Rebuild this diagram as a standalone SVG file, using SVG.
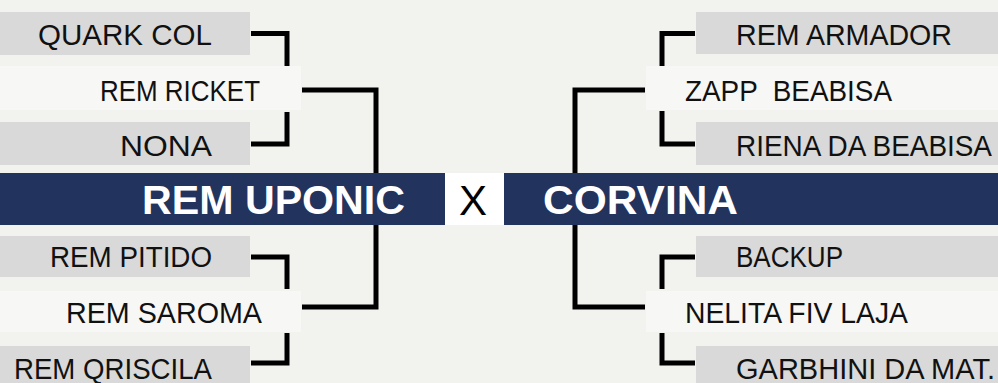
<svg xmlns="http://www.w3.org/2000/svg" width="998" height="383" viewBox="0 0 998 383">
<style>
.bg{fill:#f2f2ee}
.g{fill:#d9d9d9}
.l{fill:#f7f7f6}
.t{font-family:"Liberation Sans",Arial,sans-serif;font-size:29px;fill:#111}
.b{fill:#22335e}
.bt{font-family:"Liberation Sans",Arial,sans-serif;font-weight:bold;font-size:41px;fill:#fff}
.c{fill:none;stroke:#000;stroke-width:5}
</style>
<rect class="bg" x="0" y="0" width="998" height="383"/>
<g id="connectors">
<path class="c" d="M251,33.5 H287 V67"/>
<path class="c" d="M287,112 V144 H251"/>
<path class="c" d="M302,90 H376 V307 H302"/>
<path class="c" d="M251,257 H287 V289"/>
<path class="c" d="M287,333 V363 H251"/>
<path class="c" d="M695,33.5 H662 V66"/>
<path class="c" d="M662,111 V144 H695"/>
<path class="c" d="M645,90 H575 V307 H645"/>
<path class="c" d="M695,257 H662 V289"/>
<path class="c" d="M662,333 V363 H695"/>
</g>
<g id="quark-col"><rect class="g" x="0" y="12" width="250" height="43"/><text class="t" x="212" y="45" text-anchor="end" textLength="174" lengthAdjust="spacingAndGlyphs">QUARK COL</text></g>
<g id="rem-ricket"><rect class="l" x="0" y="66" width="301" height="44"/><text class="t" x="260" y="101" text-anchor="end" textLength="160" lengthAdjust="spacingAndGlyphs">REM RICKET</text></g>
<g id="nona"><rect class="g" x="0" y="122" width="250" height="43"/><text class="t" x="212" y="156" text-anchor="end" textLength="92" lengthAdjust="spacingAndGlyphs">NONA</text></g>
<g id="rem-pitido"><rect class="g" x="0" y="236" width="250" height="41"/><text class="t" x="212" y="267" text-anchor="end" textLength="162" lengthAdjust="spacingAndGlyphs">REM PITIDO</text></g>
<g id="rem-saroma"><rect class="l" x="0" y="291" width="301" height="41"/><text class="t" x="262" y="323" text-anchor="end" textLength="196" lengthAdjust="spacingAndGlyphs">REM SAROMA</text></g>
<g id="rem-qriscila"><rect class="g" x="0" y="346" width="250" height="37"/><text class="t" x="212" y="379" text-anchor="end" textLength="198" lengthAdjust="spacingAndGlyphs">REM QRISCILA</text></g>
<g id="rem-armador"><rect class="g" x="696" y="12" width="302" height="42"/><text class="t" x="736" y="45" textLength="216" lengthAdjust="spacingAndGlyphs">REM ARMADOR</text></g>
<g id="zapp-beabisa"><rect class="l" x="646" y="66" width="352" height="44"/><text class="t" x="685" y="101" xml:space="preserve" textLength="207" lengthAdjust="spacingAndGlyphs">ZAPP  BEABISA</text></g>
<g id="riena-da-beabisa"><rect class="g" x="696" y="122" width="302" height="43"/><text class="t" x="736" y="156" textLength="256" lengthAdjust="spacingAndGlyphs">RIENA DA BEABISA</text></g>
<g id="backup"><rect class="g" x="696" y="236" width="302" height="41"/><text class="t" x="736" y="267" textLength="107" lengthAdjust="spacingAndGlyphs">BACKUP</text></g>
<g id="nelita-fiv-laja"><rect class="l" x="646" y="291" width="352" height="41"/><text class="t" x="685" y="323" textLength="223" lengthAdjust="spacingAndGlyphs">NELITA FIV LAJA</text></g>
<g id="garbhini-da-mat"><rect class="g" x="696" y="346" width="302" height="37"/><text class="t" x="736" y="379" textLength="259" lengthAdjust="spacingAndGlyphs">GARBHINI DA MAT.</text></g>
<g id="rem-uponic"><rect class="b" x="0" y="173" width="445" height="52"/><text class="bt" x="405" y="214" text-anchor="end" textLength="263" lengthAdjust="spacingAndGlyphs">REM UPONIC</text></g>
<g id="versus"><rect fill="#ffffff" x="445" y="173" width="59" height="52"/><text x="473" y="215" text-anchor="middle" font-family="'Liberation Sans',Arial,sans-serif" font-size="42" fill="#000">X</text></g>
<g id="corvina"><rect class="b" x="504" y="173" width="494" height="52"/><text class="bt" x="543" y="214" textLength="195" lengthAdjust="spacingAndGlyphs">CORVINA</text></g>
</svg>
